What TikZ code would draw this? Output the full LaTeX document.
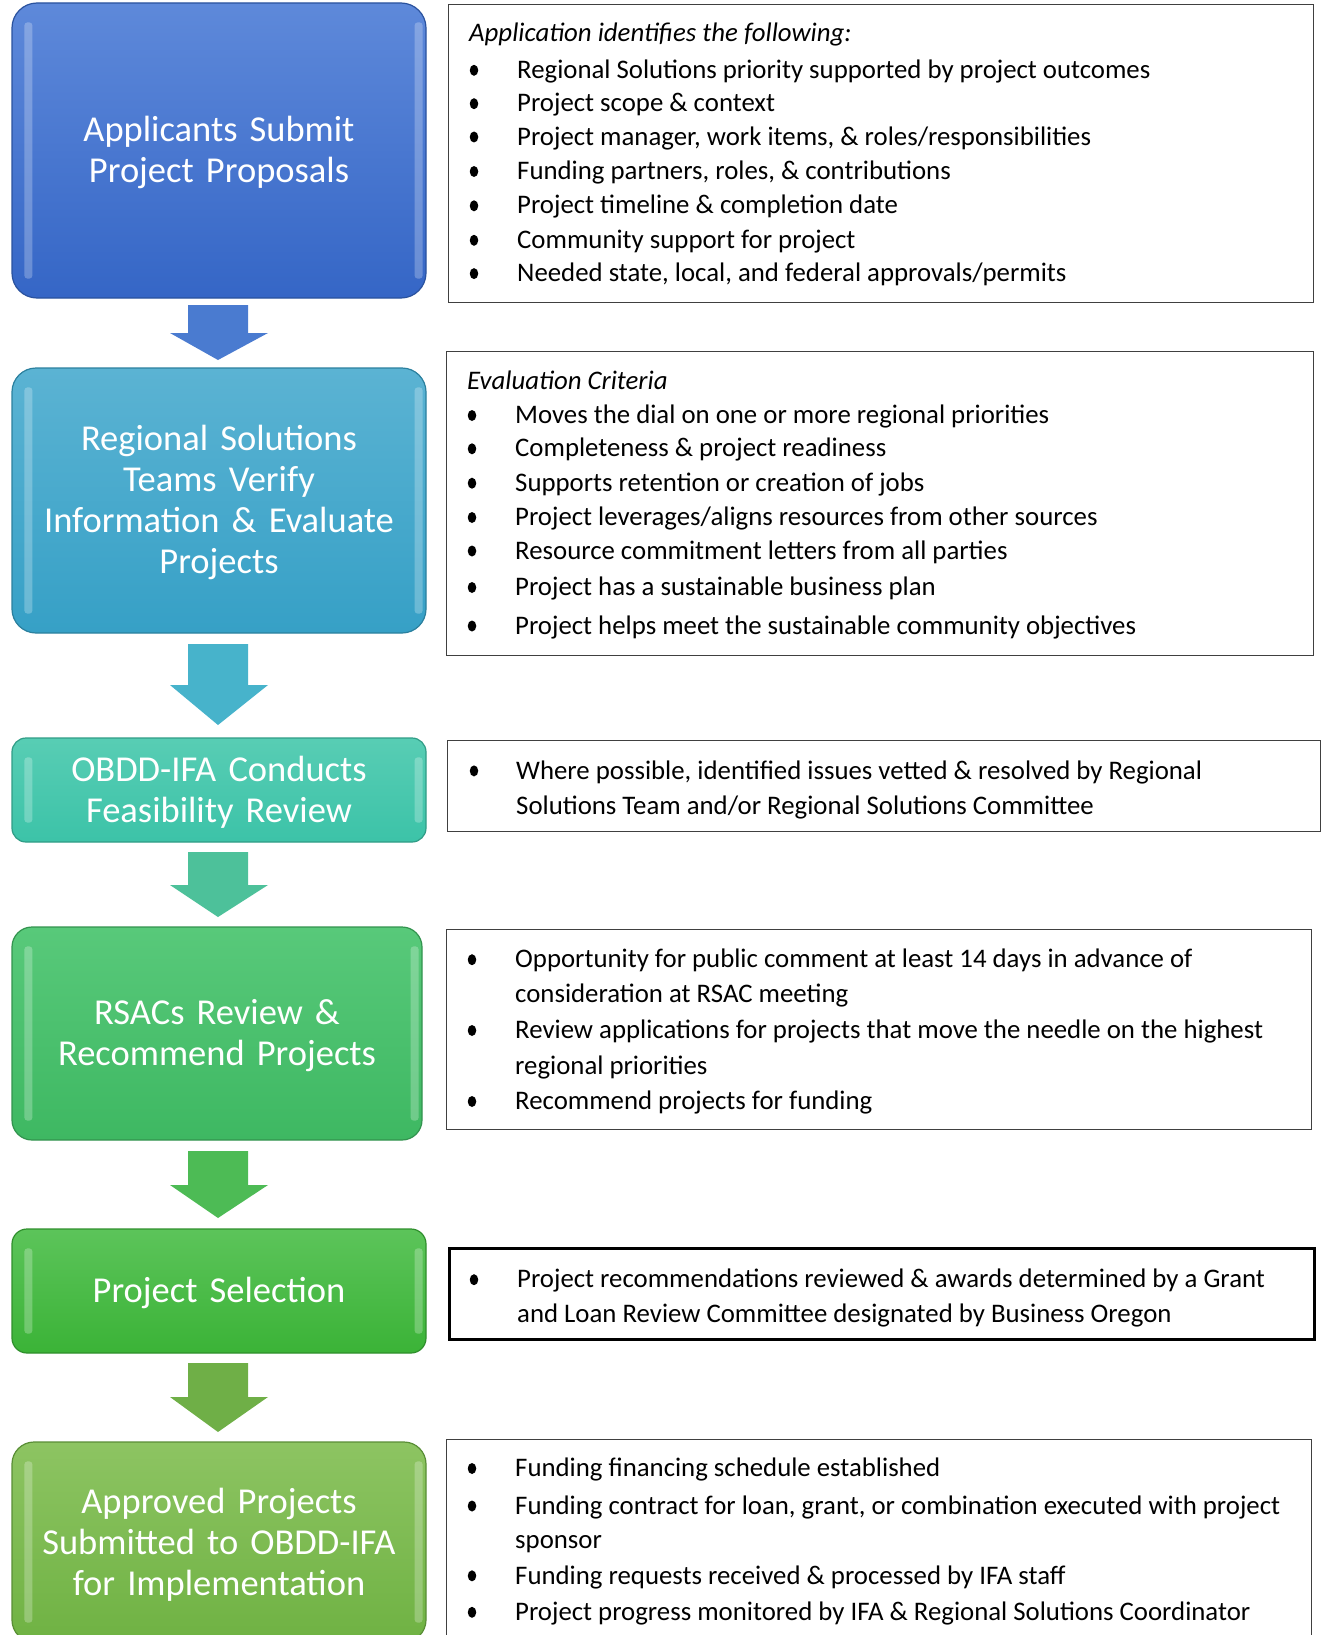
\documentclass[tikz,border=0pt]{standalone}
\usepackage{fontspec}
\setmainfont{Carlito}
\usetikzlibrary{calc,shapes.geometric}
\definecolor{cA1}{HTML}{5E89DA}\definecolor{cA2}{HTML}{3566C6}
\definecolor{cB1}{HTML}{5BB3D3}\definecolor{cB2}{HTML}{36A0C6}
\definecolor{cC1}{HTML}{58CDB4}\definecolor{cC2}{HTML}{3CC3A8}
\definecolor{cD1}{HTML}{58C97A}\definecolor{cD2}{HTML}{3EB862}
\definecolor{cE1}{HTML}{5CC45A}\definecolor{cE2}{HTML}{3BB337}
\definecolor{cF1}{HTML}{8DC462}\definecolor{cF2}{HTML}{6FB243}
\definecolor{aA}{HTML}{4A7BD0}\definecolor{aB}{HTML}{47B3CB}
\definecolor{aC}{HTML}{4DC19A}\definecolor{aD}{HTML}{4DBB55}
\definecolor{aE}{HTML}{6FAF47}
\newcommand\blockarr[4]{\fill[#1] (188,#2) -- (248,#2) -- (248,#3) -- (268,#3) -- (218,#4) -- (170,#3) -- (188,#3) -- cycle;}
\newcommand\bline[5]{\node[bulletdot] (#1b) at (#2,#4) {};\node[itemtxt] (#1) at (#3,#4) {#5};}
\newcommand\contline[4]{\node[itemtxt] (#1) at (#2,#3) {#4};}
\newcommand\bevel[1]{%
  \fill[hilite] ($(#1.north west)+(13,20)$) rectangle ($(#1.south west)+(21,-20)$);
  \fill[hilite] ($(#1.north east)+(-12,20)$) rectangle ($(#1.south east)+(-4,-20)$);}
\newcommand\lowstrut{\rule{0pt}{30pt}}
\begin{document}
\begin{tikzpicture}[x=1pt,y=-1pt,
  stepbox/.style={draw=#1, line width=1.2pt, text=white, align=center,
    font=\fontsize{36.5}{41}\selectfont, minimum width=414pt, inner sep=0pt, text width=405pt},
  infobox/.style={draw=black!75, line width=1.3pt, anchor=north west, inner sep=0pt},
  itemtxt/.style={anchor=mid west, inner sep=0pt, yshift=-7.3pt, font=\fontsize{26.8}{31}\selectfont},
  bulletdot/.style={ellipse, fill=black, minimum width=8.5pt, minimum height=11pt, inner sep=0pt, yshift=-1.5pt},
  hilite/.style={fill=white, opacity=0.25, rounded corners=3pt}
]
\useasboundingbox (0,0) rectangle (1322,1635);
\begin{scope}
\clip (0,0) rectangle (1322,1635);
% left step boxes
\node[stepbox=cA2!80!black, top color=cA1, bottom color=cA2, rounded corners=25pt, minimum height=295pt] (b1) at (219,150.5) {\lowstrut Applicants Submit\\Project Proposals};
\node[stepbox=cB2!80!black, top color=cB1, bottom color=cB2, rounded corners=24pt, minimum height=265pt] (b2) at (219,500.5) {\lowstrut Regional Solutions\\Teams Verify\\Information \& Evaluate\\Projects};
\node[stepbox=cC2!80!black, top color=cC1, bottom color=cC2, rounded corners=14pt, minimum height=104pt] (b3) at (219,790) {\lowstrut OBDD-IFA Conducts\\Feasibility Review};
\node[stepbox=cD2!80!black, top color=cD1, bottom color=cD2, rounded corners=20pt, minimum height=213pt, minimum width=410pt] (b4) at (217,1033.5) {\lowstrut RSACs Review \&\\Recommend Projects};
\node[stepbox=cE2!80!black, top color=cE1, bottom color=cE2, rounded corners=15pt, minimum height=124pt] (b5) at (219,1291) {\lowstrut Project Selection};
\node[stepbox=cF2!80!black, top color=cF1, bottom color=cF2, rounded corners=22pt, minimum height=200pt] (b6) at (219,1542) {\lowstrut Approved Projects\\Submitted to OBDD-IFA\\for Implementation};
\bevel{b1}\bevel{b2}\bevel{b3}\bevel{b4}\bevel{b5}\bevel{b6}
% block arrows
\blockarr{aA}{305}{333}{360}
\blockarr{aB}{644}{685}{725}
\blockarr{aC}{852}{885}{917}
\blockarr{aD}{1151}{1185}{1218}
\blockarr{aE}{1363}{1397}{1432}
% right info boxes
\node[infobox, minimum width=865pt, minimum height=298pt] (r1) at (448,4) {};
\node[infobox, minimum width=867pt, minimum height=304pt] (r2) at (446,351) {};
\node[infobox, minimum width=873pt, minimum height=91pt] (r3) at (447,740) {};
\node[infobox, minimum width=865pt, minimum height=200pt] (r4) at (446,929) {};
\node[infobox, draw=black, line width=2.5pt, minimum width=865pt, minimum height=91pt] (r5) at (448,1247) {};
\node[infobox, minimum width=865pt, minimum height=215pt] (r6) at (446,1439) {};
% box 1 text
\node[itemtxt, font=\fontsize{26.8}{31}\selectfont\itshape] (r1h) at (469,32.3) {Application identifies the following:};
\bline{r1a}{474}{517}{68.8}{Regional Solutions priority supported by project outcomes}
\bline{r1c}{474}{517}{102.2}{Project scope \& context}
\bline{r1d}{474}{517}{135.5}{Project manager, work items, \& roles/responsibilities}
\bline{r1e}{474}{517}{170}{Funding partners, roles, \& contributions}
\bline{r1f}{474}{517}{204.3}{Project timeline \& completion date}
\bline{r1g}{474}{517}{238.8}{Community support for project}
\bline{r1i}{474}{517}{272.1}{Needed state, local, and federal approvals/permits}
% box 2 text
\node[itemtxt, font=\fontsize{26.8}{31}\selectfont\itshape] (r2h) at (467,379.5) {Evaluation Criteria};
\bline{r2a}{472}{515}{414}{Moves the dial on one or more regional priorities}
\bline{r2c}{472}{515}{447.3}{Completeness \& project readiness}
\bline{r2d}{472}{515}{481.7}{Supports retention or creation of jobs}
\bline{r2e}{472}{515}{516}{Project leverages/aligns resources from other sources}
\bline{r2f}{472}{515}{549.5}{Resource commitment letters from all parties}
\bline{r2g}{472}{515}{586}{Project has a sustainable business plan}
\bline{r2i}{472}{515}{624.5}{Project helps meet the sustainable community objectives}
% box 3 text
\bline{r3a}{474}{516}{769.4}{Where possible, identified issues vetted \& resolved by Regional}
\contline{r3c}{516}{804.9}{Solutions Team and/or Regional Solutions Committee}
% box 4 text
\bline{r4a}{472}{515}{958.2}{Opportunity for public comment at least 14 days in advance of}
\contline{r4c}{515}{992.5}{consideration at RSAC meeting}
\bline{r4d}{472}{515}{1029}{Review applications for projects that move the needle on the highest}
\contline{r4e}{515}{1064.5}{regional priorities}
\bline{r4f}{472}{515}{1100}{Recommend projects for funding}
% box 5 text
\bline{r5a}{474}{517}{1278.2}{Project recommendations reviewed \& awards determined by a Grant}
\contline{r5c}{517}{1312.6}{and Loan Review Committee designated by Business Oregon}
% box 6 text
\bline{r6a}{472}{515}{1467}{Funding financing schedule established}
\bline{r6c}{472}{515}{1504.5}{Funding contract for loan, grant, or combination executed with project}
\contline{r6d}{515}{1539}{sponsor}
\bline{r6e}{472}{515}{1574.3}{Funding requests received \& processed by IFA staff}
\bline{r6f}{472}{515}{1610.8}{Project progress monitored by IFA \& Regional Solutions Coordinator}
\end{scope}
\end{tikzpicture}
\end{document}
